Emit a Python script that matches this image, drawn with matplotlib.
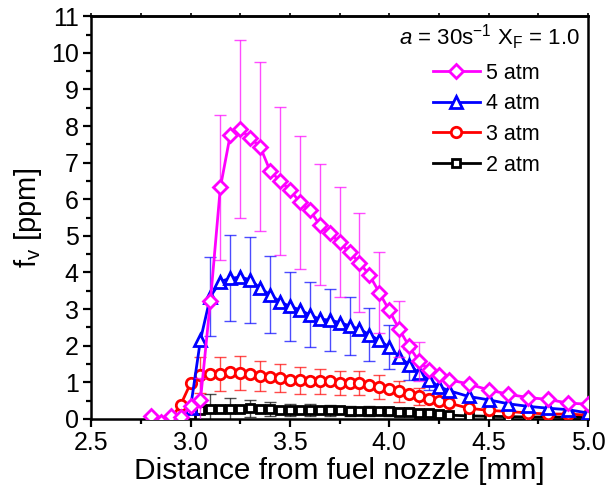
import matplotlib
matplotlib.use("Agg")
import matplotlib.pyplot as plt

plt.rcParams['font.family'] = ['Liberation Sans', 'DejaVu Sans']
plt.rcParams['mathtext.fontset'] = 'custom'
plt.rcParams['mathtext.rm'] = 'Liberation Sans'
plt.rcParams['mathtext.it'] = 'Liberation Sans:italic'

# distance from fuel nozzle [mm]
dist = [2.80, 2.85, 2.90, 2.95, 3.00, 3.05, 3.10, 3.15, 3.20, 3.25,
        3.30, 3.35, 3.40, 3.45, 3.50, 3.55, 3.60, 3.65, 3.70, 3.75,
        3.80, 3.85, 3.90, 3.95, 4.00, 4.05, 4.10, 4.15, 4.20, 4.25,
        4.30, 4.40, 4.50, 4.60, 4.70, 4.80, 4.90, 5.00]

# soot volume fraction [ppm]; None = no point
fv_5atm = [0.08, -0.10, 0.08, 0.05, 0.34, 0.52, 3.22, 6.32, 7.76, 7.91,
           7.67, 7.44, 6.78, 6.50, 6.26, 5.92, 5.70, 5.30, 5.07, 4.82,
           4.55, 4.27, 3.93, 3.45, 2.96, 2.45, 1.98, 1.57, 1.34, 1.20,
           1.07, 0.95, 0.79, 0.67, 0.58, 0.53, 0.43, 0.40]
fv_4atm = [None, None, None, None, 0.30, 2.16, 3.34, 3.75, 3.84, 3.87,
           3.80, 3.57, 3.39, 3.20, 3.07, 2.98, 2.84, 2.72, 2.70, 2.63,
           2.54, 2.45, 2.30, 2.14, 1.96, 1.69, 1.48, 1.25, 1.07, 0.88,
           0.77, 0.61, 0.52, 0.41, 0.34, 0.29, 0.25, 0.16]
fv_3atm = [None, None, 0.00, 0.38, 0.97, 1.20, 1.23, 1.23, 1.28, 1.26,
           1.23, 1.17, 1.14, 1.11, 1.07, 1.05, 1.04, 1.02, 1.03, 0.99,
           0.99, 0.97, 0.93, 0.87, 0.81, 0.75, 0.68, 0.61, 0.54, 0.49,
           0.43, 0.29, 0.23, 0.20, 0.16, 0.13, 0.13, 0.10]
fv_2atm = [None, None, None, 0.02, 0.10, 0.25, 0.27, 0.27, 0.27, 0.28,
           0.29, 0.27, 0.26, 0.25, 0.24, 0.24, 0.24, 0.23, 0.23, 0.23,
           0.22, 0.22, 0.22, 0.21, 0.21, 0.20, 0.19, 0.17, 0.15, 0.12,
           0.10, 0.08, 0.07, 0.06, 0.05, 0.05, 0.04, 0.04]

# error bars (0 = none drawn)
err_5atm = [0, 0, 0, 0, 0, 0.60, 0, 1.97, 0, 2.43,
            0, 2.31, 0, 2.02, 0, 1.82, 0, 1.65, 0, 1.50,
            0, 1.35, 0, 1.10, 0, 0.76, 0, 0.54, 0, 0,
            0, 0, 0, 0, 0, 0, 0, 0]
err_4atm = [0, 0, 0, 0, 0, 0, 1.07, 0, 1.17, 0,
            1.17, 0, 1.05, 0, 0.95, 0, 0.89, 0, 0.85, 0,
            0.80, 0, 0.73, 0, 0.61, 0, 0.43, 0, 0.27, 0,
            0, 0, 0, 0, 0, 0, 0, 0]
err_3atm = [0, 0, 0, 0, 0, 0.49, 0, 0.46, 0, 0.46,
            0, 0.40, 0, 0.38, 0, 0.36, 0, 0.34, 0, 0.33,
            0, 0.33, 0, 0.32, 0, 0.28, 0, 0.22, 0, 0,
            0, 0, 0, 0, 0, 0, 0, 0]
err_2atm = [0, 0, 0, 0, 0, 0, 0.40, 0, 0.29, 0,
            0.23, 0, 0.19, 0, 0.17, 0, 0.16, 0, 0.15, 0,
            0.14, 0, 0.13, 0, 0.12, 0, 0.10, 0, 0.08, 0,
            0, 0, 0, 0, 0, 0, 0, 0]

series = [
    ("2 atm", fv_2atm, err_2atm, "black", "s", 5.5),
    ("3 atm", fv_3atm, err_3atm, "#ff0000", "o", 7.5),
    ("4 atm", fv_4atm, err_4atm, "#0000ff", "^", 8.5),
    ("5 atm", fv_5atm, err_5atm, "#ff00ff", "D", 7.5),
]

fig = plt.figure(figsize=(6.08, 4.91), dpi=100)
ax = fig.add_axes([0.150, 0.147, 0.817, 0.820])

handles = {}
for i, (label, fv, err, color, marker, ms) in enumerate(series):
    xs = [d for d, v in zip(dist, fv) if v is not None]
    ys = [v for v in fv if v is not None]
    ex = [d for d, v, e in zip(dist, fv, err) if v is not None and e > 0]
    ey = [v for v, e in zip(fv, err) if v is not None and e > 0]
    ee = [e for v, e in zip(fv, err) if v is not None and e > 0]
    ax.errorbar(ex, ey, yerr=ee, fmt='none', ecolor=color, alpha=0.7,
                elinewidth=1.0, capsize=4, capthick=1.0, zorder=2 + 2 * i)
    line, = ax.plot(xs, ys, color=color, lw=2.0, marker=marker, ms=ms,
                    mfc='white', mec=color, mew=2.0, zorder=3 + 2 * i)
    handles[label] = line

ax.set_xlim(2.5, 5.0)
ax.set_ylim(0, 11)
ax.set_xticks([2.5, 3.0, 3.5, 4.0, 4.5, 5.0])
ax.set_xticklabels(["2.5", "3.0", "3.5", "4.0", "4.5", "5.0"])
ax.set_xticks([2.75, 3.25, 3.75, 4.25, 4.75], minor=True)
ax.set_yticks(range(0, 12))
ax.set_yticks([k + 0.5 for k in range(11)], minor=True)

for sp in ax.spines.values():
    sp.set_linewidth(1.8)
ax.tick_params(which='major', direction='out', length=6, width=1.6,
               labelsize=18, pad=3)
ax.tick_params(which='minor', direction='out', length=3.5, width=1.6)
ax.tick_params(which='both', top=False, right=False)

# short ticks on the top edge
top = ax.secondary_xaxis('top')
top.set_xticks([2.5, 3.0, 3.5, 4.0, 4.5, 5.0])
top.set_xticks([2.75, 3.25, 3.75, 4.25, 4.75], minor=True)
top.tick_params(which='both', direction='out', length=2, width=1.2,
                labeltop=False)
top.spines['top'].set_linewidth(1.8)

ax.set_xlabel("Distance from fuel nozzle [mm]", fontsize=21.5, labelpad=1)
ax.set_ylabel(r"f$_{\rm v}$ [ppm]", fontsize=21, labelpad=5)

ax.text(0.984, 0.928, r"$a$ = 30s$^{-1}$ X$_{\rm F}$ = 1.0", transform=ax.transAxes,
        ha='right', va='baseline', fontsize=16)

order = ["5 atm", "4 atm", "3 atm", "2 atm"]
ax.legend([handles[k] for k in order], order, loc='upper right',
          bbox_to_anchor=(0.93, 0.917), frameon=False, fontsize=15.5,
          handlelength=2.2, handletextpad=0.3, labelspacing=0.45,
          borderaxespad=0.2)

fig.savefig("out.png", dpi=100)
